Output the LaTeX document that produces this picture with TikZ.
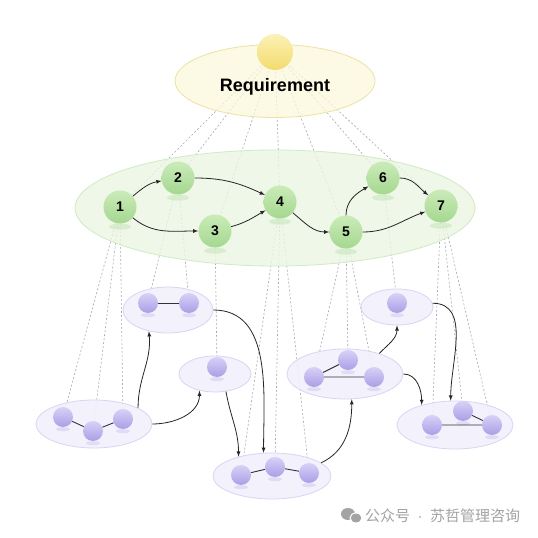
\documentclass[tikz,border=0pt]{standalone}
\usepackage{fontspec}
\setmainfont{Liberation Sans}
\newfontfamily\cjkfont{Noto Sans CJK SC}
\usetikzlibrary{arrows,shapes.geometric}

\definecolor{reqfill}{HTML}{FBF7DC}
\definecolor{reqline}{HTML}{EDE2A2}
\definecolor{suntop}{HTML}{FCF1B6}
\definecolor{sunbot}{HTML}{F4DB6E}
\definecolor{planefill}{HTML}{EAF6E3}
\definecolor{planeline}{HTML}{D2EAC4}
\definecolor{greentop}{HTML}{CBEBB9}
\definecolor{greenbot}{HTML}{A4D890}
\definecolor{groupfill}{HTML}{F2F0FB}
\definecolor{groupline}{HTML}{DAD4F4}
\definecolor{purpletop}{HTML}{D8D1F7}
\definecolor{purplebot}{HTML}{AB9EE6}
\definecolor{guidegray}{HTML}{A8A8B2}
\definecolor{markgray}{HTML}{A3A3A3}

\pgfdeclarelayer{background}
\pgfsetlayers{background,main}

\tikzset{
  plane/.style={ellipse, inner sep=0pt, line width=0.8pt},
  task/.style={circle, minimum size=33pt, inner sep=0pt, top color=greentop, bottom color=greenbot, font=\bfseries\fontsize{14}{14}\selectfont},
  sub/.style={circle, minimum size=20pt, inner sep=0pt, top color=purpletop, bottom color=purplebot},
  group/.style={ellipse, inner sep=0pt, fill=groupfill, fill opacity=0.9, draw=groupline, line width=0.8pt},
  guide/.style={draw=guidegray, line width=0.6pt, dash pattern=on 2pt off 2pt},
  flow/.style={draw=black!85, line width=0.8pt, -latex},
  link/.style={draw=black!80, line width=0.9pt},
}

\begin{document}
\begin{tikzpicture}[x=1pt, y=1pt]

\begin{pgfonlayer}{background}
\fill[white] (0,0) rectangle (538,538);
\end{pgfonlayer}
\useasboundingbox (0,0) rectangle (538,538);

% requirement
\node[plane, minimum width=200pt, minimum height=73pt, fill=reqfill, fill opacity=0.75, draw=reqline] (req) at (275,457) {};
\node[circle, minimum size=36pt, inner sep=0pt, top color=suntop, bottom color=sunbot] (sun) at (275,486) {};
\node[font=\bfseries\fontsize{18}{18}\selectfont] (reqtext) at (275,451) {Requirement};

% task plane
\node[plane, minimum width=400pt, minimum height=116pt, fill=planefill, fill opacity=0.8, draw=planeline] (plane) at (275,330) {};

\node[task] (n1) at (120,331) {1};
\node[task] (n2) at (178,360) {2};
\node[task] (n3) at (215,307) {3};
\node[task] (n4) at (280,336) {4};
\node[task] (n5) at (346,306) {5};
\node[task] (n6) at (383,360) {6};
\node[task] (n7) at (441,332) {7};

\foreach \i in {1,...,7}
  \fill[greenbot, opacity=0.3] ([yshift=-3pt]n\i.south) ellipse (11pt and 3pt);

\draw[flow] (n1) to[out=40,in=190] (n2);
\draw[flow] (n1) to[out=-40,in=180] (n3);
\draw[flow] (n2) to[out=0,in=155] (n4);
\draw[flow] (n3) to[out=15,in=210] (n4);
\draw[flow] (n4) to[out=-40,in=180] (n5);
\draw[flow] (n5) to[out=90,in=210] (n6);
\draw[flow] (n5) to[out=0,in=200] (n7);
\draw[flow] (n6) to[out=0,in=140] (n7);

% sub groups
\node[group, minimum width=116pt, minimum height=48pt] (ga) at (94,114) {};
\node[group, minimum width=90pt, minimum height=46pt] (gb) at (168,228) {};
\node[group, minimum width=72pt, minimum height=36pt] (gc) at (215,164) {};
\node[group, minimum width=118pt, minimum height=46pt] (gd) at (272,62) {};
\node[group, minimum width=116pt, minimum height=50pt] (ge) at (345,164) {};
\node[group, minimum width=72pt, minimum height=36pt] (gf) at (397,231) {};
\node[group, minimum width=116pt, minimum height=48pt] (gg) at (455,113) {};

\node[sub] (a1) at (63,121) {};
\node[sub] (a2) at (93,107) {};
\node[sub] (a3) at (123,119) {};
\node[sub] (b1) at (148,235) {};
\node[sub] (b2) at (189,235) {};
\node[sub] (c1) at (217,171) {};
\node[sub] (d1) at (241,63) {};
\node[sub] (d2) at (275,71) {};
\node[sub] (d3) at (309,65) {};
\node[sub] (e1) at (314,161) {};
\node[sub] (e2) at (348,178) {};
\node[sub] (e3) at (374,161) {};
\node[sub] (f1) at (397,235) {};
\node[sub] (g1) at (432,113) {};
\node[sub] (g2) at (463,127) {};
\node[sub] (g3) at (492,113) {};

\foreach \n in {a1,a2,a3,b1,b2,c1,d1,d2,d3,e1,e2,e3,f1,g1,g2,g3}
  \fill[purplebot, opacity=0.25] ([yshift=-2pt]\n.south) ellipse (7pt and 2pt);

\draw[link] (a1) -- (a2) -- (a3);
\draw[link] (b1) -- (b2);
\draw[link] (d1) -- (d2) -- (d3);
\draw[link] (e2) -- (e1) -- (e3);
\draw[link] (g1) -- (g3) -- (g2);

\draw[flow] (ga.20) to[out=90,in=-85] (gb.228);
\draw[flow] (ga.0) to[out=0,in=-90] (gc.227);
\draw[flow] (gb.0) to[out=0,in=90] (gd.110);
\draw[flow] (gc.-58) to[out=-80,in=90] (gd.150);
\draw[flow] (gd.15) to[out=25,in=-90] (ge.-75);
\draw[flow] (ge.31) to[out=45,in=-90] (gf.-90);
\draw[flow] (ge.0) to[out=0,in=90] (gg.149);
\draw[flow] (gf.6) to[out=0,in=90] (gg.100);

\begin{pgfonlayer}{background}
\foreach \i in {1,...,7}
  \draw[guide] (sun.center) -- (n\i.center);
\foreach \t/\s in {1/a1,1/a2,1/a3,2/b1,2/b2,3/c1,4/d1,4/d2,4/d3,5/e1,5/e2,5/e3,6/f1,7/g1,7/g2,7/g3}
  \draw[guide] (n\t.center) -- (\s.center);
\end{pgfonlayer}

% watermark
\fill[markgray] (348,24) ellipse (7pt and 6pt);
\fill[markgray, draw=white, line width=1pt] (356,20) ellipse (6pt and 5pt);
\node[anchor=west, inner sep=0pt, text=markgray, font=\fontsize{15}{15}\selectfont] (mark) at (365,22) {{\cjkfont 公众号}\enspace·\enspace{\cjkfont 苏哲管理咨询}};

\end{tikzpicture}
\end{document}
